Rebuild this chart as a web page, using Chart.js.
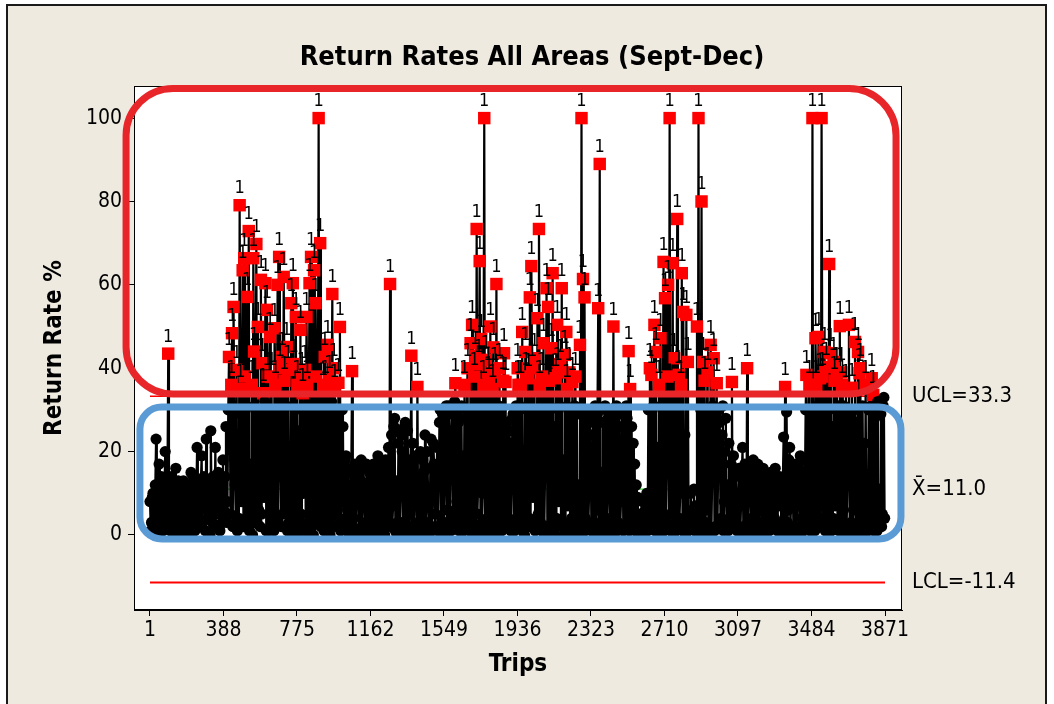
<!DOCTYPE html>
<html><head><meta charset="utf-8">
<script src="https://cdn.jsdelivr.net/npm/chart.js@4.4.1/dist/chart.umd.min.js"></script>
<style>html,body{margin:0;padding:0;background:#fff;}canvas{display:block;}</style>
</head><body>
<canvas id="c" width="1054" height="704" style="width:1054px;height:704px"></canvas>
<script>
// ---------------- data ----------------
const chartTitle = 'Return Rates All Areas (Sept-Dec)';
const xTitle = 'Trips';
const yTitle = 'Return Rate %';
const tripTicks = [1, 388, 775, 1162, 1549, 1936, 2323, 2710, 3097, 3484, 3871];
const rateTicks = [0, 20, 40, 60, 80, 100];
const tripStep = 8;            // each array holds one sample per 8 trips
const UCL = 33.3, MEAN = 11.0, LCL = -11.4;
const limitLabels = ['UCL=33.3', 'X\u0304=11.0', 'LCL=-11.4'];
// samples at trips 1, 9, 17, ...
const returnRatesA = [
  8, 3, 10, 1, 23, 5, 17, 2, 12, 6, 20, 4,
  43.5,
  6, 14, 2, 9, 16, 3, 11, 0, 7, 13, 4, 10, 1, 8, 15, 5, 12, 3, 21, 6,
  2, 19, 7, 11, 23, 4, 9, 25, 3, 12, 21, 6, 15, 1, 10, 18, 5, 26, 8,
  42.7, 5, 48.4, 54.7, 12, 39.6, 24, 79.1, 8, 63.5,
  66.4, 2, 57.1, 72.9, 17, 36, 66.4, 3, 69.8, 49.9,
  28, 61.2, 41.2, 9, 60.4, 54, 1, 47.5, 37.9, 30,
  49.6, 4, 60, 66.7, 14, 42.7, 61.9, 6, 45.1, 39.6,
  21, 55.6, 60.4, 0, 52.3, 36, 25, 49.2, 37.9, 10,
  39.6, 52.3, 3, 60.4, 66.7, 19, 63.5, 55.6, 7, 100,
  70, 31, 35.5, 42.7, 2, 45.6, 37.2, 15, 57.8, 40,
  5,
  27, 36.5, 49.9, 8, 26, 3,
  19, 6, 12, 2, 39.3, 4, 17, 9, 14, 1, 18, 7, 11, 3, 16, 8, 13, 0, 17, 5, 10, 19, 2, 14, 6, 12, 18, 4, 21,
  60.2,
  24, 7, 28, 13, 3, 25, 10, 20, 1, 27, 9, 16, 5,
  43,
  22, 8, 14, 35.5, 12,
  20, 4, 15, 24, 7, 11, 2, 23, 9, 17, 5, 21, 13,
  30, 3, 28, 11, 31, 6, 25, 1, 29, 14, 36.4, 8, 27, 2, 31, 19,
  36, 5, 40, 28, 46, 50.4, 2, 43, 73.4, 12, 65.7, 47, 10, 100, 42, 4, 37, 50, 22, 45, 39, 60.2, 1, 40, 30, 6, 43.6, 36.7,
  27, 4, 22, 12, 29, 1,
  31, 40, 5, 36, 48.7, 20, 43.9, 2, 37.6, 57,
  64.5, 9, 42.4, 30, 52, 73.4, 3, 38, 46, 14,
  59.2, 54.7, 1, 44.8, 62.8, 26, 37.6, 50.4, 8, 41,
  59.2, 18, 43.2, 48.7, 7, 39, 29, 36.7, 4, 38,
  29, 12,
  45.6, 100, 61.4, 57, 3,
  28, 10, 24, 2, 19, 31, 6, 54.4, 89, 15, 27, 1, 30, 9, 25, 4, 29, 50, 12, 31, 3, 26, 8, 30, 14, 2, 28, 44.1, 35,
  26, 22, 17, 12, 9, 5, 3, 8, 2, 6, 10, 30,
  40, 38.4, 6, 50.4, 43.9, 21, 36, 47.2, 3, 65.5, 56.8, 15, 60, 100, 28, 65.2, 42.4, 1, 75.8, 38.4, 10, 62.8, 53.5, 24, 52.8, 41.5, 5,
  10, 6, 11, 7, 50, 100, 3, 80, 41.5, 37,
  6, 39, 29, 45.6, 14, 42.4, 2, 36.4, 18,
  27, 4, 31, 8, 28, 12, 22, 3, 36.7, 19, 6, 10, 2, 14, 7, 21, 1, 16, 40, 9,
  13, 4, 18, 11, 0, 17, 6, 12, 3, 9, 14, 5, 11, 2, 13, 8, 4, 10, 1, 7, 12, 3, 23.5, 35.5, 29.5, 6,
  21, 10, 15, 2, 17, 8, 12, 19, 4, 14,
  10, 38.4, 5, 36, 28, 100, 30, 47.2, 3, 47.5,
  37.6, 100, 4, 43.9, 40.3, 15, 65, 43.6, 26, 41.5,
  7, 39, 31, 50.1, 39, 2, 29, 35, 12, 50.4,
  30, 35.3, 6, 46.3, 27, 43.9, 38.8, 1, 31, 22,
  36, 9, 30, 4, 37.6, 33.6, 28, 2, 32, 11,
  29, 5, 33
];
// samples at trips 5, 13, 21, ...
const returnRatesB = [
  1, 9, 2, 12, 0, 11, 3, 14, 1, 10, 2, 13,
  2,
  1, 4, 12, 0, 5, 13, 2, 12, 1, 3, 11, 2, 12, 0, 4, 14, 1, 10, 3, 13,
  13, 3, 14, 1, 6, 13, 0, 10, 14, 2, 5, 12, 2, 13, 3, 6, 14, 3, 30,
  30, 36, 2, 29, 3, 1, 4, 35, 30, 2,
  38, 31, 4, 1, 5, 0, 44, 30, 3, 6,
  2, 5, 34, 32, 1, 38, 29, 2, 4, 1,
  36, 30, 3, 40, 2, 5, 37, 31, 1, 3,
  2, 4, 41, 30, 2, 0, 3, 5, 34, 29,
  1, 36, 31, 4, 2, 0, 3, 38, 30, 5,
  2, 4, 1, 36, 29, 3, 0, 32, 2, 35,
  30,
  2, 4, 1, 30, 2, 18,
  1, 15, 0, 16, 2, 14, 1, 16, 0, 13, 2, 16, 1, 17, 0, 15, 3, 14, 1, 16, 0, 3, 15, 1, 17, 0, 2, 16, 3,
  2,
  2, 26, 1, 0, 22, 1, 24, 3, 26, 2, 25, 0, 18,
  2,
  1, 19, 0, 3, 1,
  2, 18, 1, 3, 20, 0, 16, 1, 22, 2, 14, 1, 27,
  2, 29, 0, 30, 3, 31, 1, 30, 4, 32, 2, 30, 1, 28, 2, 1,
  2, 30, 3, 1, 4, 0, 38, 2, 5, 41, 1, 3, 36, 2, 0, 39, 2, 1, 35, 0, 3, 2, 31, 3, 1, 37, 4, 2,
  3, 25, 1, 28, 2, 30,
  2, 36, 30, 3, 1, 0, 38, 31, 4, 2,
  40, 30, 1, 3, 5, 36, 29, 2, 0, 31,
  2, 37, 30, 3, 1, 0, 4, 39, 31, 2,
  3, 0, 2, 35, 30, 1, 4, 2, 31, 0,
  1, 3,
  2, 0, 1, 4, 30,
  2, 27, 1, 30, 3, 0, 29, 1, 2, 0, 3, 31, 2, 28, 0, 30, 1, 3, 29, 1, 30, 2, 29, 1, 30, 31, 2, 1, 4,
  3, 2, 1, 4, 0, 2, 5, 1, 4, 2, 1, 3,
  2, 4, 31, 1, 3, 0, 2, 4, 30, 1, 3, 38, 2, 5, 1, 0, 3, 30, 2, 4, 36, 1, 3, 0, 2, 4, 3,
  3, 2, 1, 4, 2, 1, 30, 2, 0, 3,
  30, 2, 1, 0, 31, 1, 29, 2, 30,
  2, 24, 1, 20, 3, 1, 4, 17, 2, 3, 15, 1, 16, 0, 15, 2, 17, 1, 3, 15,
  1, 16, 2, 14, 15, 0, 14, 1, 16, 2, 0, 14, 1, 15, 2, 13, 16, 2, 12, 14, 1, 13, 2, 1, 3, 18,
  1, 16, 0, 14, 1, 17, 2, 0, 18, 3,
  30, 2, 30, 1, 3, 2, 1, 36, 31, 2,
  3, 38, 30, 1, 3, 0, 2, 1, 4, 37,
  30, 2, 1, 3, 36, 31, 0, 2, 30, 1,
  3, 1, 30, 2, 0, 3, 40, 4, 2, 1,
  2, 1, 3, 31, 2, 1, 30, 1, 3, 2,
  2, 31, 4
];
// highlight annotations, in data units (trip, rate)
const highlightBoxes = [
  { x0: -125, x1: 3929, y0: 107.1, y1: 33.8, color: '#E8262A', r: 47 },
  { x0: -52, x1: 3955, y0: 30.7, y1: -0.96, color: '#5B9BD5', r: 22 }
];

// ---------------- chart ----------------
const FONT = '"DejaVu Sans Condensed", "DejaVu Sans", sans-serif';
const points = [];
returnRatesA.forEach((v, i) => {
  points.push({ x: 1 + i * tripStep, y: v });
  if (i < returnRatesB.length) points.push({ x: 1 + tripStep / 2 + i * tripStep, y: returnRatesB[i] });
});
const limitLine = v => [{ x: tripTicks[0], y: v }, { x: tripTicks[tripTicks.length - 1], y: v }];
const isOut = v => v > UCL || v < LCL;

const bgPlugin = {
  id: 'bg',
  beforeDraw(chart) {
    const c = chart.ctx, a = chart.chartArea;
    c.save();
    c.fillStyle = '#ffffff'; c.fillRect(0, 0, chart.width, chart.height);
    c.fillStyle = '#EEEAE0'; c.fillRect(7, 5, 1039, 710);
    c.strokeStyle = '#1a1a1a'; c.lineWidth = 2; c.strokeRect(7, 5, 1039, 710);
    c.fillStyle = '#ffffff'; c.fillRect(a.left, a.top, a.right - a.left, a.bottom - a.top);
    c.restore();
  }
};

const labelPlugin = {
  id: 'outLabels',
  afterDatasetsDraw(chart) {
    const c = chart.ctx, meta = chart.getDatasetMeta(0);
    c.save();
    c.font = '18px ' + FONT; c.fillStyle = '#000'; c.textAlign = 'center'; c.textBaseline = 'alphabetic';
    meta.data.forEach((pt, i) => { if (isOut(points[i].y)) c.fillText('1', pt.x, pt.y - 12); });
    c.restore();
  }
};

const decoPlugin = {
  id: 'deco',
  afterDraw(chart) {
    const c = chart.ctx, a = chart.chartArea, xs = chart.scales.x, ys = chart.scales.y;
    c.save();
    c.strokeStyle = '#000'; c.lineWidth = 1;
    c.strokeRect(a.left + 0.5, a.top + 0.5, a.right - a.left - 1, a.bottom - a.top - 1);
    c.fillStyle = '#000'; c.textAlign = 'center'; c.textBaseline = 'middle';
    c.font = 'bold 27px ' + FONT;
    c.fillText(chartTitle, 532, 58);
    c.font = 'bold 24px ' + FONT;
    c.fillText(xTitle, (a.left + a.right) / 2, 665);
    c.save(); c.translate(55, (a.top + a.bottom) / 2); c.rotate(-Math.PI / 2);
    c.fillText(yTitle, 0, 0); c.restore();
    c.font = '22px ' + FONT; c.textAlign = 'left';
    [UCL, MEAN, LCL].forEach((v, i) => c.fillText(limitLabels[i], a.right + 10, ys.getPixelForValue(v)));
    highlightBoxes.forEach(b => {
      const x0 = xs.getPixelForValue(b.x0), x1 = xs.getPixelForValue(b.x1);
      const y0 = ys.getPixelForValue(b.y0), y1 = ys.getPixelForValue(b.y1);
      c.beginPath(); c.strokeStyle = b.color; c.lineWidth = 7;
      c.roundRect(x0, y0, x1 - x0, y1 - y0, b.r); c.stroke();
    });
    c.restore();
  }
};

new Chart(document.getElementById('c'), {
  type: 'line',
  data: {
    datasets: [
      {
        data: points, order: 0, borderColor: '#000', borderWidth: 2.2, tension: 0,
        pointRadius: ctx => isOut(ctx.raw.y) ? 8.8 : 5.6,
        pointStyle: ctx => isOut(ctx.raw.y) ? 'rect' : 'circle',
        pointBackgroundColor: ctx => isOut(ctx.raw.y) ? '#FF0000' : '#000000',
        pointBorderColor: ctx => isOut(ctx.raw.y) ? '#FF0000' : '#000000',
        pointBorderWidth: 0
      },
      { data: limitLine(UCL), order: 1, borderColor: '#FF0000', borderWidth: 1.5, pointRadius: 0 },
      { data: limitLine(MEAN), order: 1, borderColor: '#00D000', borderWidth: 1, pointRadius: 0 },
      { data: limitLine(LCL), order: 1, borderColor: '#FF0000', borderWidth: 2, pointRadius: 0 }
    ]
  },
  options: {
    responsive: false, animation: false, parsing: false,
    layout: { padding: { left: 0, right: 152, top: 86, bottom: 0 } },
    plugins: { legend: { display: false }, tooltip: { enabled: false }, title: { display: false } },
    scales: {
      x: {
        type: 'linear', min: -83.2, max: 3960.5,
        afterBuildTicks: s => { s.ticks = tripTicks.map(v => ({ value: v })); },
        afterFit: s => { s.height = 94; },
        grid: { display: true, drawOnChartArea: false, drawTicks: true, tickLength: 6, color: '#000' },
        border: { display: true, color: '#000' },
        ticks: { color: '#000', font: { family: FONT, size: 21 }, padding: 2, maxRotation: 0, autoSkip: false, callback: v => String(v) }
      },
      y: {
        type: 'linear', min: -18, max: 107.7,
        afterBuildTicks: s => { s.ticks = rateTicks.map(v => ({ value: v })); },
        afterFit: s => { s.width = 134; },
        grid: { display: true, drawOnChartArea: false, drawTicks: true, tickLength: 6, color: '#000' },
        border: { display: true, color: '#000' },
        ticks: { color: '#000', font: { family: FONT, size: 21 }, padding: 6, callback: v => String(v) }
      }
    }
  },
  plugins: [bgPlugin, labelPlugin, decoPlugin]
});
</script>
</body></html>
